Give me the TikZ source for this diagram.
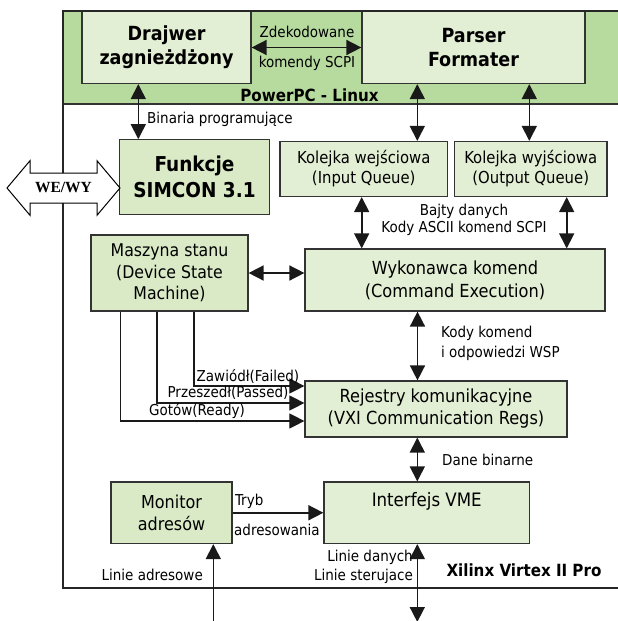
\documentclass[tikz,border=0pt]{standalone}
\usepackage{fontspec}
\setmainfont{DejaVu Sans Condensed}
\newfontfamily\weserif{Liberation Serif}
\usetikzlibrary{arrows.meta}
\definecolor{pasek}{HTML}{B7DB9F}
\definecolor{blokfill}{HTML}{E3EFD4}
\definecolor{blokfillB}{HTML}{DAEAC7}
\tikzset{
  blok/.style={draw=black!80, line width=1.2pt, fill=blokfill, align=center,
    inner sep=0pt, font=\fontsize{17.5}{22}\selectfont},
  blokB/.style={blok, fill=blokfillB, font=\bfseries\fontsize{19.5}{24}\selectfont},
  grot/.tip={Triangle[length=15pt,width=15pt]},
  dwu/.style={grot-grot, line width=1.6pt, draw=black!90},
  jed/.style={-grot, line width=1.6pt, draw=black!90},
  cienka/.style={-grot, line width=1.1pt, draw=black!90},
  opis/.style={font=\fontsize{15}{19}\selectfont, inner sep=1pt},
  tytul/.style={font=\bfseries\fontsize{16.8}{19}\selectfont, inner sep=1pt},
}
\begin{document}
\begin{tikzpicture}[x=1pt,y=-1pt]
\useasboundingbox (0,0) rectangle (618,621);
\clip (0,0) rectangle (618,621);
% pasek PowerPC
\fill[pasek] (63,11) rectangle (640,104);
\draw[line width=1.6pt, black!80] (63,104) -- (640,104);

% bloki
\node[blokB, fill=blokfill, minimum width=169pt, minimum height=72pt] (draj) at (166.5,47.5) {Drajwer\\zagnieżdżony};
\node[blokB, fill=blokfill, minimum width=223pt, minimum height=72pt] (pars) at (473.5,47.5) {Parser\\Formater};
\node[blokB, font=\bfseries\fontsize{20.5}{25.5}\selectfont, minimum width=150pt, minimum height=74.5pt] (funk) at (194.5,177) {Funkcje\\SIMCON 3.1};
\node[blok, font=\fontsize{16.5}{20}\selectfont, minimum width=167.5pt, minimum height=55pt] (kwej) at (363.75,169) {Kolejka wejściowa\\(Input Queue)};
\node[blok, font=\fontsize{16.5}{20}\selectfont, minimum width=152.5pt, minimum height=55pt] (kwyj) at (530.75,169) {Kolejka wyjściowa\\(Output Queue)};
\node[blok, fill=blokfillB, minimum width=157pt, minimum height=76pt, font=\fontsize{17.5}{21.5}\selectfont] (msm) at (169.5,273) {Maszyna stanu\\(Device State\\Machine)};
\node[blok, minimum width=300pt, minimum height=62pt, font=\fontsize{18}{23}\selectfont] (wyk) at (455,280) {Wykonawca komend\\(Command Execution)};
\node[blok, minimum width=262pt, minimum height=56pt, font=\fontsize{18}{22}\selectfont] (rej) at (436,409) {Rejestry komunikacyjne\\(VXI Communication Regs)};
\node[blok, fill=blokfillB, minimum width=121pt, minimum height=61.5pt, font=\fontsize{17.8}{22.5}\selectfont] (mon) at (171.5,512.75) {Monitor\\adresów};
\node[blok, minimum width=205.5pt, minimum height=61.5pt,
  label={[anchor=north, font=\fontsize{18.5}{22}\selectfont, yshift=-8pt]north:Interfejs VME}] (vme) at (426.75,512.75) {};

% ramka Xilinx
\draw[line width=2.6pt, black!85] (640,11) -| (63,588) -- (640,588);

% polaczenia
\draw[dwu] (draj.east) -- (pars.west);
\draw[dwu] (draj.south -| 138.3,0) -- (funk.north -| 138.3,0);
\draw[dwu] (pars.south -| 417.3,0) -- (kwej.north -| 417.3,0);
\draw[dwu] (pars.south -| 529.3,0) -- (kwyj.north -| 529.3,0);
\draw[dwu] (kwej.south -| 361.7,0) -- (wyk.north -| 361.7,0);
\draw[dwu] (kwyj.south -| 566.7,0) -- (wyk.north -| 566.7,0);
\draw[dwu] (msm.east) -- (wyk.west |- msm.east);
\draw[dwu] (wyk.south -| 417.5,0) -- (rej.north -| 417.5,0);
\draw[dwu] (rej.south -| 417.3,0) -- (vme.north -| 417.3,0);
\coordinate (dolvme) at (417.3,622);
\draw[dwu] (vme.south -| dolvme) -- (dolvme);
\draw[jed] (mon.east) -- (vme.west |- mon.east);
\coordinate (dolmon) at (213.3,630);
\draw[jed] (dolmon) -- (mon.south -| dolmon);
\draw[cienka] (msm.south -| 194,0) |- (rej.west |- 0,386);
\draw[cienka] (msm.south -| 157,0) |- (rej.west |- 0,403);
\draw[cienka] (msm.south -| 120.5,0) |- (rej.west |- 0,421);

% opisy
\node[opis] (lzdek) at (307,32) {Zdekodowane};
\node[opis] (lkom) at (307,63) {komendy SCPI};
\node[tytul] (lppc) at (309.5,95) {PowerPC - Linux};
\node[opis, anchor=west] (lbin) at (146,119) {Binaria programujące};
\node[opis, align=center, font=\fontsize{15}{16.5}\selectfont] (lbajty) at (464,220) {Bajty danych\\Kody ASCII komend SCPI};
\node[opis, align=left, anchor=west, font=\fontsize{15}{20}\selectfont] (lkody) at (440,343) {Kody komend\\i odpowiedzi WSP};
\node[opis] (lfail) at (248,376) {Zawiódł(Failed)};
\node[opis] (lpass) at (228,393) {Przeszedł(Passed)};
\node[opis] (lready) at (197,411) {Gotów(Ready)};
\node[opis, anchor=west] (ldane) at (441,460) {Dane binarne};
\node[opis, anchor=west] (ltryb) at (234,501.5) {Tryb};
\node[opis, anchor=west] (ladr) at (233,530) {adresowania};
\node[opis, anchor=east] (lladr) at (204,575) {Linie adresowe};
\node[opis, align=right, anchor=east] (lldan) at (414,567) {Linie danych\\Linie sterujace};
\node[tytul] (lxil) at (524,570) {Xilinx Virtex II Pro};

% WE/WY
\draw[line width=1pt, fill=white] (7,188) -- (30,160.7) -- (30,173) -- (97,173) -- (97,160.7)
  -- (120,188) -- (97,215.3) -- (97,203) -- (30,203) -- (30,215.3) -- cycle;
\node[font=\weserif\bfseries\fontsize{15.5}{18}\selectfont] (wewy) at (63.5,188) {WE/WY};
\end{tikzpicture}
\end{document}
